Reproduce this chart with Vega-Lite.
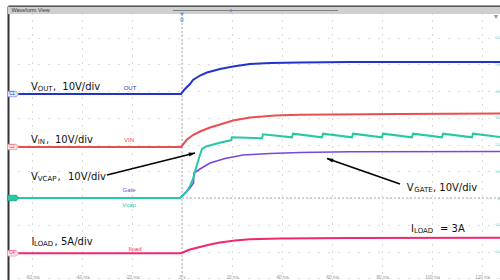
{
  "$schema": "https://vega.github.io/schema/vega-lite/v6.json",
  "width": 492,
  "height": 274,
  "autosize": {"type": "none"},
  "padding": {"left": 8, "top": 6, "right": 0, "bottom": 0},
  "background": "white",
  "config": {"view": {"stroke": null}},
  "datasets": {
    "traces": [
      {"ch": "VOUT", "t": -69.6, "v": 38.88}, {"ch": "VOUT", "t": -0.4, "v": 38.88}, {"ch": "VOUT", "t": 1.2, "v": 40.75}, {"ch": "VOUT", "t": 3.2, "v": 42.62}, {"ch": "VOUT", "t": 4.4, "v": 44.11}, {"ch": "VOUT", "t": 7.2, "v": 45.79}, {"ch": "VOUT", "t": 10.0, "v": 46.92}, {"ch": "VOUT", "t": 15.2, "v": 48.22}, {"ch": "VOUT", "t": 20.4, "v": 49.16}, {"ch": "VOUT", "t": 27.2, "v": 50.09}, {"ch": "VOUT", "t": 35.2, "v": 50.47}, {"ch": "VOUT", "t": 47.2, "v": 50.65}, {"ch": "VOUT", "t": 67.2, "v": 50.84}, {"ch": "VOUT", "t": 127.2, "v": 50.84},
      {"ch": "VIN", "t": -69.6, "v": 19.07}, {"ch": "VIN", "t": -0.4, "v": 19.07}, {"ch": "VIN", "t": 0.4, "v": 20.0}, {"ch": "VIN", "t": 2.0, "v": 21.87}, {"ch": "VIN", "t": 4.4, "v": 23.55}, {"ch": "VIN", "t": 7.2, "v": 24.86}, {"ch": "VIN", "t": 11.2, "v": 26.36}, {"ch": "VIN", "t": 15.2, "v": 27.48}, {"ch": "VIN", "t": 20.4, "v": 28.97}, {"ch": "VIN", "t": 27.2, "v": 30.09}, {"ch": "VIN", "t": 37.2, "v": 30.84}, {"ch": "VIN", "t": 47.2, "v": 31.10}, {"ch": "VIN", "t": 87.2, "v": 31.40}, {"ch": "VIN", "t": 127.2, "v": 31.59},
      {"ch": "Gate", "t": -69.6, "v": 0}, {"ch": "Gate", "t": -0.8, "v": 0}, {"ch": "Gate", "t": 1.2, "v": 1.68}, {"ch": "Gate", "t": 3.2, "v": 3.74}, {"ch": "Gate", "t": 4.6, "v": 5.61}, {"ch": "Gate", "t": 4.8, "v": 9.35}, {"ch": "Gate", "t": 7.2, "v": 10.84}, {"ch": "Gate", "t": 11.2, "v": 13.08}, {"ch": "Gate", "t": 17.2, "v": 14.77}, {"ch": "Gate", "t": 24.4, "v": 16.07}, {"ch": "Gate", "t": 35.2, "v": 16.64}, {"ch": "Gate", "t": 47.2, "v": 17.01}, {"ch": "Gate", "t": 67.2, "v": 17.27}, {"ch": "Gate", "t": 127.2, "v": 17.38},
      {"ch": "Vcap", "t": -69.6, "v": 0}, {"ch": "Vcap", "t": -0.8, "v": 0}, {"ch": "Vcap", "t": 0.4, "v": 1.12}, {"ch": "Vcap", "t": 2.0, "v": 2.62}, {"ch": "Vcap", "t": 3.2, "v": 4.49}, {"ch": "Vcap", "t": 4.4, "v": 7.10}, {"ch": "Vcap", "t": 5.6, "v": 11.21}, {"ch": "Vcap", "t": 6.8, "v": 14.95}, {"ch": "Vcap", "t": 8.0, "v": 18.32}, {"ch": "Vcap", "t": 9.6, "v": 19.25}, {"ch": "Vcap", "t": 13.2, "v": 20.19}, {"ch": "Vcap", "t": 17.2, "v": 21.12}, {"ch": "Vcap", "t": 19.6, "v": 21.57}, {"ch": "Vcap", "t": 20.0, "v": 22.69}, {"ch": "Vcap", "t": 32.0, "v": 22.32}, {"ch": "Vcap", "t": 32.4, "v": 23.81}, {"ch": "Vcap", "t": 44.0, "v": 22.69}, {"ch": "Vcap", "t": 44.4, "v": 24.04}, {"ch": "Vcap", "t": 56.0, "v": 22.69}, {"ch": "Vcap", "t": 56.4, "v": 24.04}, {"ch": "Vcap", "t": 68.0, "v": 22.69}, {"ch": "Vcap", "t": 68.4, "v": 24.04}, {"ch": "Vcap", "t": 80.0, "v": 22.69}, {"ch": "Vcap", "t": 80.4, "v": 24.04}, {"ch": "Vcap", "t": 92.0, "v": 22.69}, {"ch": "Vcap", "t": 92.4, "v": 24.04}, {"ch": "Vcap", "t": 104.0, "v": 22.69}, {"ch": "Vcap", "t": 104.4, "v": 24.04}, {"ch": "Vcap", "t": 116.0, "v": 22.69}, {"ch": "Vcap", "t": 116.4, "v": 24.04}, {"ch": "Vcap", "t": 127.2, "v": 22.84},
      {"ch": "Iload", "t": -69.6, "v": -20.67}, {"ch": "Iload", "t": -0.4, "v": -20.67}, {"ch": "Iload", "t": 1.2, "v": -20.0}, {"ch": "Iload", "t": 3.2, "v": -19.25}, {"ch": "Iload", "t": 7.2, "v": -18.32}, {"ch": "Iload", "t": 11.2, "v": -17.38}, {"ch": "Iload", "t": 15.2, "v": -16.64}, {"ch": "Iload", "t": 21.2, "v": -15.89}, {"ch": "Iload", "t": 27.2, "v": -15.44}, {"ch": "Iload", "t": 39.2, "v": -15.14}, {"ch": "Iload", "t": 67.2, "v": -14.95}, {"ch": "Iload", "t": 127.2, "v": -14.84}
    ],
    "bigText": [
      {"t": -60.4, "v": 40.37, "text": "V"}, {"t": -51.6, "v": 40.37, "text": ","}, {"t": -47.88, "v": 40.37, "text": "10V/div"},
      {"t": -60.4, "v": 20.56, "text": "V"}, {"t": -54.4, "v": 20.56, "text": ","}, {"t": -50.8, "v": 20.56, "text": "10V/div"},
      {"t": -60.4, "v": 6.73, "text": "V"}, {"t": -49.8, "v": 6.73, "text": ","}, {"t": -45.6, "v": 6.73, "text": "10V/div"},
      {"t": 89.88, "v": 2.62, "text": "V"}, {"t": 100.4, "v": 2.62, "text": ","}, {"t": 102.92, "v": 2.62, "text": "10V/div"},
      {"t": -60.2, "v": -17.57, "text": "I"}, {"t": -51.0, "v": -17.57, "text": ","}, {"t": -48.4, "v": -17.57, "text": "5A/div"},
      {"t": 91.6, "v": -12.71, "text": "I"}, {"t": 103.2, "v": -12.71, "text": "= 3A"}
    ],
    "subText": [
      {"t": -57.72, "v": 40.0, "text": "OUT"},
      {"t": -57.72, "v": 20.19, "text": "IN"},
      {"t": -57.72, "v": 6.36, "text": "VCAP"},
      {"t": 92.92, "v": 2.24, "text": "GATE"},
      {"t": -59.2, "v": -17.94, "text": "LOAD"},
      {"t": 92.8, "v": -13.08, "text": "LOAD"}
    ],
    "chLabels": [
      {"ch": "VOUT", "t": -20.8, "v": 40.19, "text": "OUT"},
      {"ch": "VIN", "t": -21.2, "v": 20.75, "text": "VIN"},
      {"ch": "Gate", "t": -21.2, "v": 2.06, "text": "Gate"},
      {"ch": "Vcap", "t": -21.2, "v": -3.25, "text": "Vcap"},
      {"ch": "Iload", "t": -18.8, "v": -19.81, "text": "Iload"}
    ],
    "tags": [
      {"ch": "VOUT", "t": -67.6, "v": 38.88, "text": "C1"},
      {"ch": "VIN", "t": -67.6, "v": 19.07, "text": "C2"},
      {"ch": "Vcap", "t": -67.6, "v": 0, "text": "C3"},
      {"ch": "Iload", "t": -67.6, "v": -20.67, "text": "C4"}
    ],
    "cursors": [
      {"t": 0, "v": 65.42, "t2": 0, "v2": -30.65},
      {"t": 0, "v": 0, "t2": 127.2, "v2": 0}
    ],
    "arrows": [
      {"t": -30.0, "v": 8.60, "t2": 5.2, "v2": 16.82},
      {"t": 87.2, "v": 5.24, "t2": 58.0, "v2": 14.77}
    ]
  },
  "encoding": {
    "x": {"field": "t", "type": "quantitative", "scale": {"domain": [-69.6, 127.2], "nice": false, "zero": false}, "axis": null},
    "y": {"field": "v", "type": "quantitative", "scale": {"domain": [-30.654, 71.776], "nice": false, "zero": false}, "axis": null}
  },
  "layer": [
    {
      "data": {"values": [{"t": -69.6, "v": 71.5, "t2": 127.2, "v2": 68.8}]},
      "mark": {"type": "rect", "color": "#cfcfcf"},
      "encoding": {"x2": {"field": "t2"}, "y2": {"field": "v2"}}
    },
    {
      "data": {"values": [{"t": -3.6, "v": 70.09, "t2": 62.4, "v2": 70.09}]},
      "mark": {"type": "rule", "color": "#808080", "strokeWidth": 1},
      "encoding": {"x2": {"field": "t2"}, "y2": {"field": "v2"}}
    },
    {
      "data": {"values": [{"t": 19.6, "v": 70.09}]},
      "mark": {"type": "point", "shape": "diamond", "filled": true, "size": 14, "color": "#5a8ad0"}
    },
    {
      "data": {"values": [{"t": -68.2, "v": 69.35, "text": "Waveform View"}]},
      "mark": {"type": "text", "align": "left", "baseline": "alphabetic", "font": "Liberation Sans", "fontSize": 5.5, "color": "#333"},
      "encoding": {"text": {"field": "text"}}
    },
    {
      "data": {"values": [{"t": 125.6, "v": 67.66}]},
      "mark": {"type": "point", "shape": "triangle-down", "filled": true, "size": 22, "color": "#777"}
    },
    {
      "data": {"name": "cursors"},
      "mark": {"type": "rule", "color": "#a8a8a8", "strokeWidth": 1, "strokeDash": [2, 2]},
      "encoding": {"x2": {"field": "t2"}, "y2": {"field": "v2"}}
    },
    {
      "data": {"values": [{"t": 0, "v": 68.6}]},
      "mark": {"type": "point", "shape": "triangle-down", "filled": true, "size": 18, "color": "#3a7bd5"}
    },
    {
      "data": {"values": [{"t": 0, "v": 66.7}]},
      "mark": {"type": "point", "shape": "M-0.55,-1L0.55,-1L0.55,1L-0.55,1Z", "filled": true, "size": 13, "fill": "#e4eefc", "stroke": "#3a7bd5", "strokeWidth": 1}
    },
    {
      "data": {"name": "traces"},
      "transform": [{"filter": "datum.ch === 'Gate'"}],
      "mark": {"type": "line", "strokeWidth": 1.6, "interpolate": "linear"},
      "encoding": {
        "color": {"field": "ch", "type": "nominal", "scale": {"domain": ["VOUT", "VIN", "Vcap", "Gate", "Iload"], "range": ["#2233cc", "#ee4d4d", "#26c9a6", "#7a46dc", "#f2286e"]}, "legend": null}
      }
    },
    {
      "data": {"name": "traces"},
      "transform": [{"filter": "datum.ch !== 'Gate'"}],
      "mark": {"type": "line", "strokeWidth": 2, "interpolate": "linear"},
      "encoding": {
        "x": {"field": "t", "type": "quantitative", "scale": {"domain": [-69.6, 127.2], "nice": false, "zero": false},
          "axis": {"orient": "bottom", "title": null, "values": [-60, -40, -20, 0, 20, 40, 60, 80, 100, 120], "labelExpr": "datum.value == 0 ? '0 s' : datum.value + ' ms'", "labelFont": "Liberation Sans", "labelFontSize": 4.5, "labelColor": "#999", "labelPadding": -3, "labelBaseline": "middle", "labelFlush": false, "labelOverlap": false, "ticks": false, "domain": false, "grid": true, "gridColor": "#b5b5b5", "gridDash": [1, 6], "gridWidth": 1}},
        "y": {"field": "v", "type": "quantitative", "scale": {"domain": [-30.654, 71.776], "nice": false, "zero": false},
          "axis": {"orient": "left", "title": null, "values": [-30, -20, -10, 0, 10, 20, 30, 40, 50, 60, 70], "labels": false, "ticks": false, "domain": true, "domainColor": "#333", "domainWidth": 2, "grid": true, "gridColor": "#b5b5b5", "gridDash": [1, 9], "gridWidth": 1}},
        "color": {"field": "ch", "type": "nominal", "scale": {"domain": ["VOUT", "VIN", "Vcap", "Gate", "Iload"], "range": ["#2233cc", "#ee4d4d", "#26c9a6", "#7a46dc", "#f2286e"]}, "legend": null}
      }
    },
    {
      "data": {"name": "arrows"},
      "mark": {"type": "rule", "color": "#000", "strokeWidth": 1.6},
      "encoding": {"x2": {"field": "t2"}, "y2": {"field": "v2"}}
    },
    {
      "data": {"values": [{"t": 5.2, "v": 16.82}]},
      "mark": {"type": "point", "shape": "M0,0L0.45,1.4L-0.45,1.4Z", "filled": true, "size": 80, "color": "#000", "angle": 76, "opacity": 1}
    },
    {
      "data": {"values": [{"t": 58.0, "v": 14.77}]},
      "mark": {"type": "point", "shape": "M0,0L0.45,1.4L-0.45,1.4Z", "filled": true, "size": 80, "color": "#000", "angle": 289, "opacity": 1}
    },
    {
      "data": {"name": "bigText"},
      "mark": {"type": "text", "align": "left", "baseline": "alphabetic", "font": "DejaVu Sans", "fontSize": 10, "color": "#111"},
      "encoding": {
        "x": {"field": "t", "type": "quantitative", "scale": {"domain": [-69.6, 127.2], "nice": false, "zero": false},
          "axis": {"orient": "top", "title": null, "labels": false, "ticks": false, "grid": false, "domain": true, "domainColor": "#333", "domainWidth": 2}},
        "y": {"field": "v", "type": "quantitative", "scale": {"domain": [-30.654, 71.776], "nice": false, "zero": false},
          "axis": {"orient": "right", "title": null, "values": [-20, -10, 0, 10, 20, 30, 40, 50, 60], "labelFont": "Liberation Sans", "labelFontSize": 4, "labelColor": "#7fd4c4", "labelAlign": "right", "labelPadding": -1, "labelBaseline": "middle", "ticks": false, "domain": false, "grid": false}},
        "text": {"field": "text"}
      }
    },
    {
      "data": {"name": "subText"},
      "mark": {"type": "text", "align": "left", "baseline": "alphabetic", "font": "DejaVu Sans", "fontSize": 7, "color": "#111"},
      "encoding": {"text": {"field": "text"}}
    },
    {
      "data": {"name": "chLabels"},
      "mark": {"type": "text", "align": "center", "baseline": "alphabetic", "font": "Liberation Sans", "fontSize": 6},
      "encoding": {
        "text": {"field": "text"},
        "color": {"field": "ch", "type": "nominal", "scale": {"domain": ["VOUT", "VIN", "Vcap", "Gate", "Iload"], "range": ["#2233cc", "#ee4d4d", "#26c9a6", "#7a46dc", "#f2286e"]}, "legend": null}
      }
    },
    {
      "data": {"name": "tags"},
      "mark": {"type": "point", "shape": "M-1,-0.5L0.6,-0.5L1,0L0.6,0.5L-1,0.5Z", "filled": true, "size": 121, "strokeWidth": 0.8, "opacity": 1},
      "encoding": {
        "fill": {"field": "ch", "type": "nominal", "scale": {"domain": ["VOUT", "VIN", "Vcap", "Iload"], "range": ["#e6e8ff", "#ffe6e6", "#26c9a6", "#ffe4ee"]}, "legend": null},
        "stroke": {"field": "ch", "type": "nominal", "scale": {"domain": ["VOUT", "VIN", "Vcap", "Iload"], "range": ["#8890ee", "#f09090", "#1a9a80", "#f590b0"]}, "legend": null}
      }
    },
    {
      "data": {"name": "tags"},
      "mark": {"type": "text", "align": "center", "baseline": "middle", "font": "Liberation Sans", "fontSize": 4.5, "dx": -1},
      "encoding": {
        "text": {"field": "text"},
        "color": {"field": "ch", "type": "nominal", "scale": {"domain": ["VOUT", "VIN", "Vcap", "Gate", "Iload"], "range": ["#2233cc", "#ee4d4d", "#26c9a6", "#7a46dc", "#f2286e"]}, "legend": null}
      }
    }
  ],
  "resolve": {"axis": {"x": "independent", "y": "independent"}}
}
